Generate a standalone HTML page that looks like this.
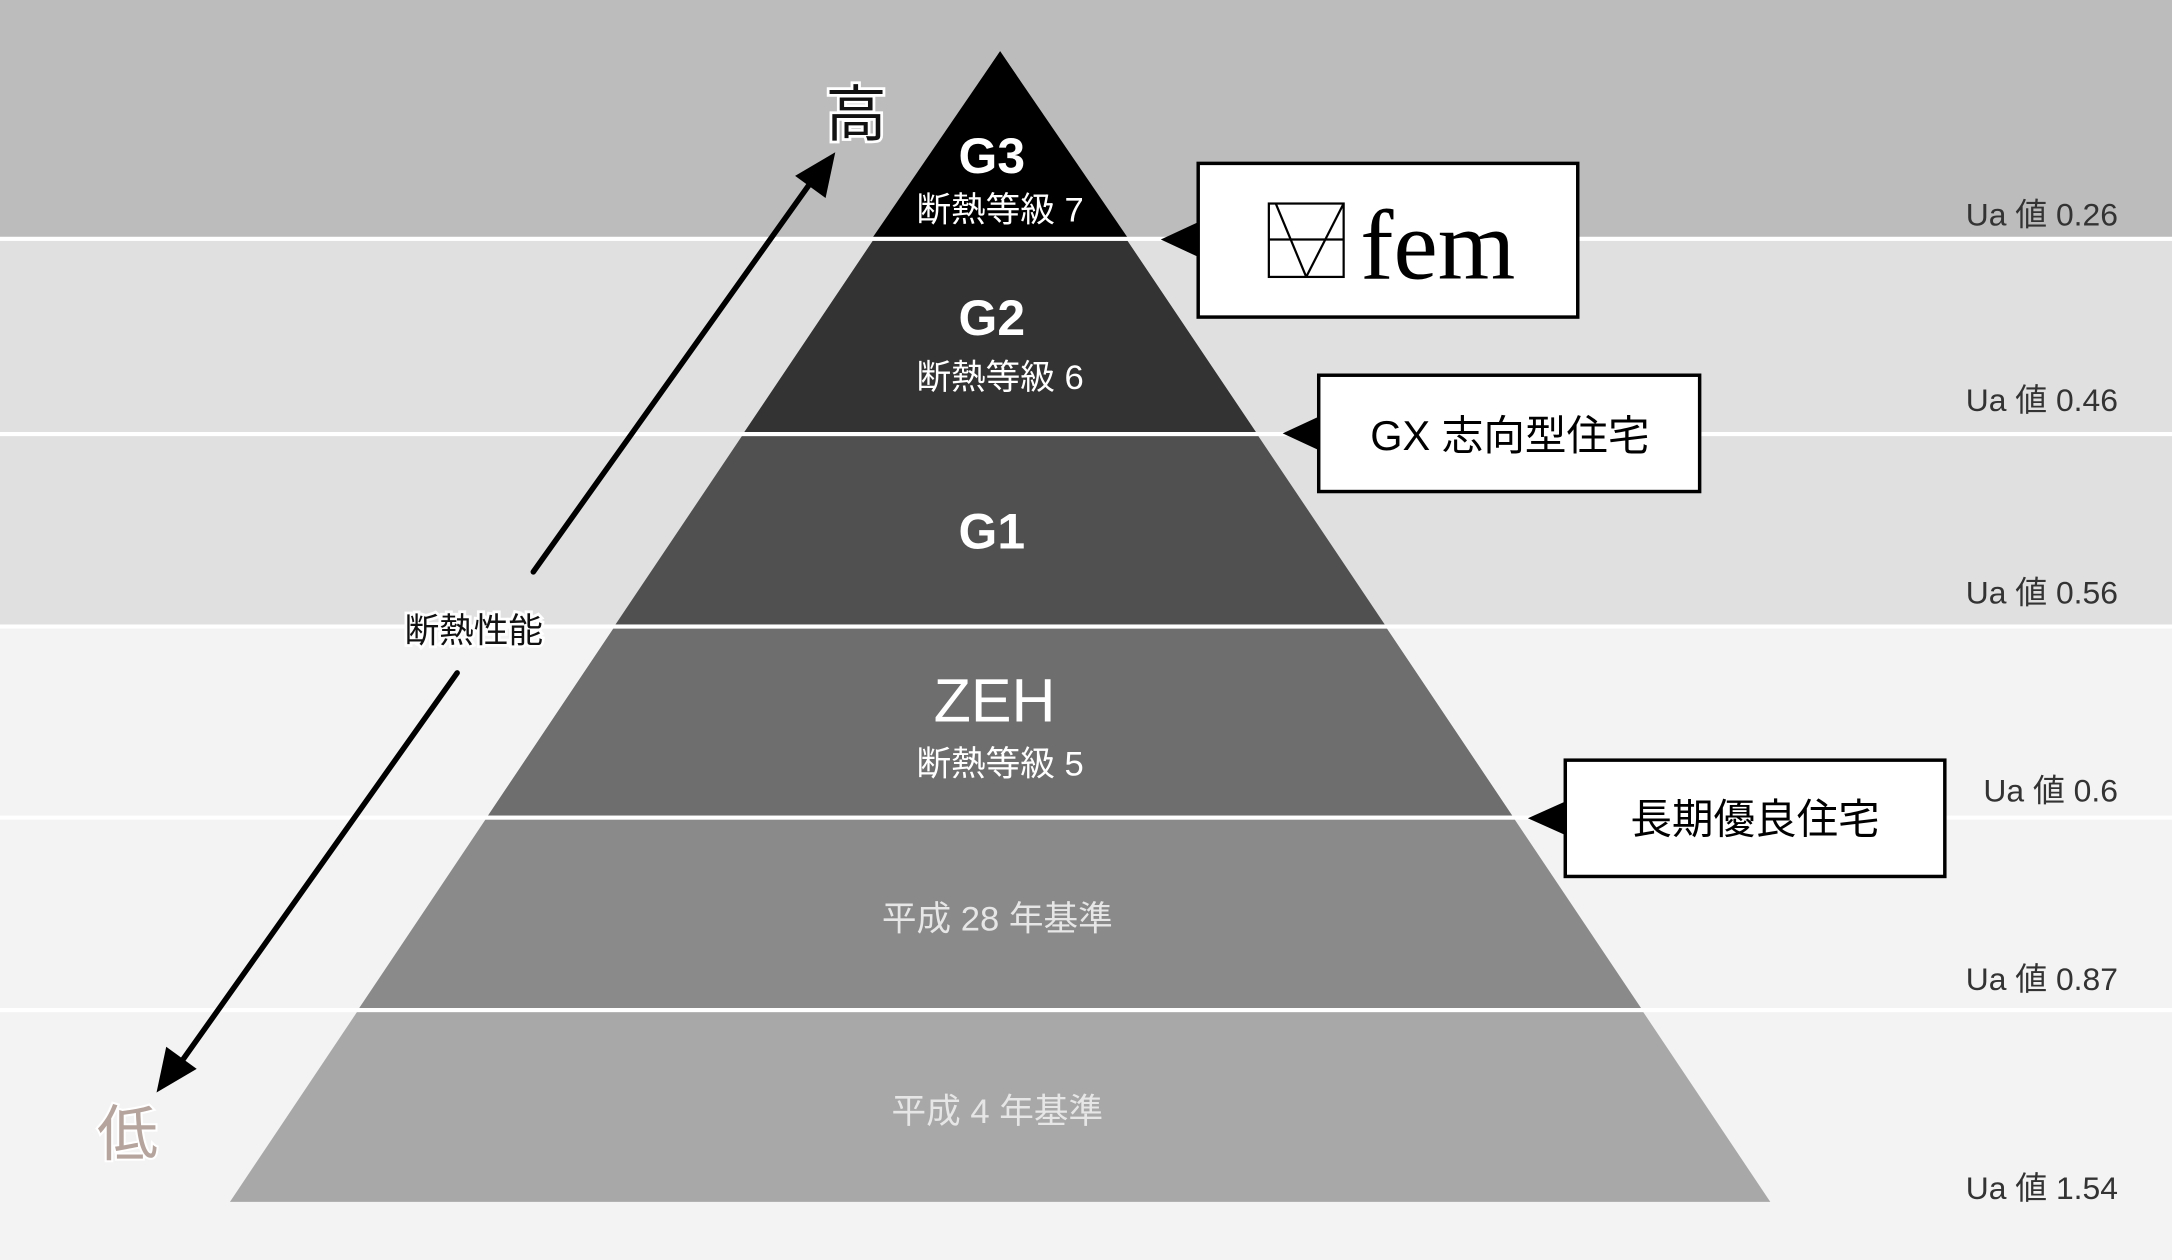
<!DOCTYPE html>
<html><head><meta charset="utf-8"><style>
html,body{margin:0;padding:0;width:2172px;height:1260px;overflow:hidden;background:#f3f3f3}
svg{display:block}
text{font-family:"Liberation Sans","Noto Sans CJK JP",sans-serif}
</style></head><body>
<svg width="2172" height="1260" viewBox="0 0 1568 910" preserveAspectRatio="none" xmlns="http://www.w3.org/2000/svg">
<rect x="0" y="0" width="1568" height="172" fill="#bcbcbc"/>
<rect x="0" y="172" width="1568" height="280" fill="#e0e0e0"/>
<rect x="0" y="452" width="1568" height="458" fill="#f3f3f3"/>
<!-- pyramid layers -->
<polygon points="722,37 166,868 1278,868" fill="#a8a8a8"/>
<polygon points="722,37 258,730 1186,730" fill="#8a8a8a"/>
<polygon points="722,37 351,591 1093,591" fill="#6e6e6e"/>
<polygon points="722,37 443,453 1001,453" fill="#505050"/>
<polygon points="722,37 536,314 908,314" fill="#333333"/>
<polygon points="722,37 629,173 815,173" fill="#000000"/>
<!-- white lines -->
<g fill="#ffffff">
<rect x="0" y="171" width="1568" height="3"/>
<rect x="0" y="312" width="1568" height="3"/>
<rect x="0" y="451" width="1568" height="3"/>
<rect x="0" y="589" width="1568" height="3"/>
<rect x="0" y="728" width="1568" height="3"/>
</g>
<!-- pyramid text -->
<g fill="#ffffff" text-anchor="middle">
<text x="716" y="125" font-size="36" font-weight="bold">G3</text>
<text x="722" y="160" font-size="25">断熱等級 7</text>
<text x="716" y="242" font-size="36" font-weight="bold">G2</text>
<text x="722" y="281" font-size="25">断熱等級 6</text>
<text x="716" y="396" font-size="36" font-weight="bold">G1</text>
<text x="718" y="521" font-size="44">ZEH</text>
<text x="722" y="560" font-size="25">断熱等級 5</text>
<text x="720" y="672" font-size="25" fill="#e6e6e6">平成 28 年基準</text>
<text x="720" y="811" font-size="25" fill="#e6e6e6">平成 4 年基準</text>
</g>
<!-- Ua labels -->
<g fill="#333" font-size="23" text-anchor="end">
<text x="1529" y="163">Ua 値 0.26</text>
<text x="1529" y="297">Ua 値 0.46</text>
<text x="1529" y="436">Ua 値 0.56</text>
<text x="1529" y="579">Ua 値 0.6</text>
<text x="1529" y="715">Ua 値 0.87</text>
<text x="1529" y="866">Ua 値 1.54</text>
</g>
<!-- callout boxes -->
<polygon points="838,173 866,160 866,186" fill="#000"/>
<rect x="865" y="118" width="274" height="111" fill="#fff" stroke="#000" stroke-width="2.5"/>
<g stroke="#000" stroke-width="1.6" fill="none">
<rect x="916" y="147" width="54" height="53"/>
<line x1="916" y1="173" x2="970" y2="173"/>
<line x1="921" y1="147" x2="943" y2="200"/>
<line x1="970" y1="147" x2="943" y2="200"/>
</g>
<text x="982" y="201" font-size="72" fill="#000" style='font-family:"Liberation Serif",serif'>fem</text>

<polygon points="926,313 954,300 954,326" fill="#000"/>
<rect x="952" y="271" width="275" height="84" fill="#fff" stroke="#000" stroke-width="2.5"/>
<text x="1090" y="325" font-size="30" fill="#000" text-anchor="middle">GX 志向型住宅</text>

<polygon points="1103,591 1132,578 1132,604" fill="#000"/>
<rect x="1130" y="549" width="274" height="84" fill="#fff" stroke="#000" stroke-width="2.5"/>
<text x="1267" y="602" font-size="30" fill="#000" text-anchor="middle">長期優良住宅</text>

<!-- arrows -->
<g stroke="#000" stroke-width="4" stroke-linecap="round">
<line x1="385" y1="413" x2="588" y2="128"/>
<line x1="330" y1="486" x2="128" y2="771"/>
</g>
<polygon points="603,110 596,143 574,127" fill="#000"/>
<polygon points="113,789 120,756 142,772" fill="#000"/>
<text x="342" y="464" font-size="25" fill="#111" text-anchor="middle" stroke="#fff" stroke-width="4" paint-order="stroke">断熱性能</text>
<text x="618" y="98" font-size="44" fill="#111" text-anchor="middle" stroke="#fff" stroke-width="4" paint-order="stroke">高</text>
<text x="92" y="834" font-size="44" fill="#b5a49d" text-anchor="middle" stroke="#fff" stroke-width="3" paint-order="stroke">低</text>
</svg>
</body></html>
